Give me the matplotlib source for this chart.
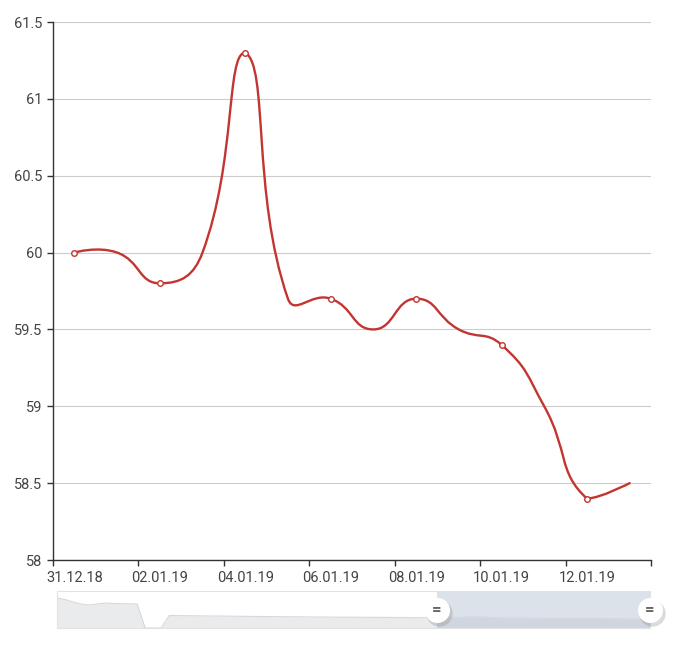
import numpy as np
import matplotlib
matplotlib.use("Agg")
import matplotlib.pyplot as plt
from matplotlib.path import Path
from matplotlib.patches import PathPatch, Rectangle

plt.rcParams['font.family'] = ['Roboto', 'DejaVu Sans']

# data
dates = ['31.12.18', '01.01.19', '02.01.19', '03.01.19', '04.01.19', '05.01.19', '06.01.19',
         '07.01.19', '08.01.19', '09.01.19', '10.01.19', '11.01.19', '12.01.19', '13.01.19']
values = [60.0, 60.0, 59.8, 60.0, 61.3, 59.7, 59.7, 59.5, 59.7, 59.5, 59.4, 59.0, 58.4, 58.5]
y_ticks = [58, 58.5, 59, 59.5, 60, 60.5, 61, 61.5]
y_labels = ['58', '58.5', '59', '59.5', '60', '60.5', '61', '61.5']

# overview shown in the zoom slider (whole series, relative values)
overview = [30, 28.5, 26, 24, 23, 24, 25, 24.5, 24.3, 24.2, 24, 0, 0, 0,
            12.5, 12.4, 12.3, 12.2, 12.1, 12.0, 12.0, 11.9, 11.8, 11.7, 11.6, 11.5, 11.5, 11.4,
            11.3, 11.2, 11.2, 11.1, 11.0, 11.0, 10.9, 10.8, 10.8, 10.8, 10.7, 10.7, 10.6, 10.6,
            10.5, 10.5, 10.4, 10.4, 10.3, 10.3, 10.3, 10.4, 10.6, 10.9, 11.2, 11.0, 10.6, 10.3,
            10.1, 10.0, 10.0, 9.9, 9.9, 9.8, 9.8, 9.7, 9.7, 9.6, 9.6, 9.5, 9.4, 9.4, 9.3, 9.2,
            9.1, 9.0, 9.0]
zoom_start, zoom_end = 0.64, 1.0

RED = '#c23531'

fig = plt.figure(figsize=(6.8, 6.47), dpi=100)
ax = fig.add_axes([53 / 680, 1 - 560 / 647, 598 / 680, 538 / 647])


def echarts_smooth(xs, ys, sx, sy, smooth=0.5):
    # echarts-style bezier smoothing, computed in pixel space
    P = np.column_stack([np.asarray(xs, float) * sx, np.asarray(ys, float) * sy])
    lo, hi = P.min(0), P.max(0)
    n = len(P)
    verts = [P[0]]
    codes = [Path.MOVETO]
    cp0 = P[0].copy()
    for i in range(1, n):
        p = P[i]
        prev = P[i - 1]
        if i + 1 < n:
            nxt = P[i + 1]
            v = nxt - prev
            d0 = np.hypot(*(p - prev))
            d1 = np.hypot(*(p - nxt))
            r = d1 / (d0 + d1)
            cp1 = p - v * smooth * (1 - r)
        else:
            v = np.zeros(2)
            r = 0.5
            cp1 = p.copy()
        verts += [np.clip(cp0, lo, hi), np.clip(cp1, lo, hi), p]
        codes += [Path.CURVE4] * 3
        cp0 = p + v * smooth * r
    V = np.array(verts)
    V[:, 0] /= sx
    V[:, 1] /= sy
    return Path(V, codes)


x = np.arange(len(dates))
path = echarts_smooth(x, values, 598 / 14, 538 / 3.5)
ax.add_patch(PathPatch(path, fill=False, edgecolor=RED, lw=1.7, zorder=3,
                       capstyle='round', joinstyle='round'))
ax.plot(x[::2], np.array(values)[::2], 'o', ms=4, mfc='white', mec=RED, mew=1.0, zorder=4)

ax.set_xlim(-0.5, len(dates) - 0.5)
ax.set_ylim(58, 61.5)
ax.set_yticks(y_ticks)
ax.set_yticklabels(y_labels)
ax.yaxis.grid(True, color='#cccccc', lw=0.8)
ax.set_axisbelow(True)

ax.set_xticks(np.arange(-0.5, len(dates), 2))
ax.set_xticklabels([])
ax.set_xticks(x[::2], minor=True)
ax.set_xticklabels(dates[::2], minor=True)
ax.tick_params(axis='x', which='minor', length=0, pad=8)
ax.tick_params(axis='x', which='major', length=4.5, width=1, color='#333333')
ax.tick_params(axis='y', length=4.5, width=1, color='#333333', pad=3)
ax.tick_params(which='both', labelsize=10.5, labelcolor='#444444')

for s in ['top', 'right']:
    ax.spines[s].set_visible(False)
for s in ['left', 'bottom']:
    ax.spines[s].set_color('#333333')
    ax.spines[s].set_linewidth(1)

# data zoom slider
sl = fig.add_axes([57 / 680, 1 - 628 / 647, 593 / 680, 37 / 647])
ox = np.linspace(0, 1, len(overview))
sl.fill_between(ox, overview, 0, color='#eaebed', lw=0)
sl.plot(ox, overview, color='#d6d8dc', lw=0.8)
sl.set_xlim(0, 1)
sl.set_ylim(0, 37)
sl.add_patch(Rectangle((zoom_start, 0), zoom_end - zoom_start, 37, color='#a7b7cc', alpha=0.4, lw=0))
sl.set_xticks([])
sl.set_yticks([])
for s in sl.spines.values():
    s.set_color('#e3e3e3')
    s.set_linewidth(0.8)
for hx in [zoom_start, zoom_end]:
    sl.plot([hx + 0.004], [0.40 * 37], 'o', ms=19, mfc='#888888', mec='none', alpha=0.3,
            clip_on=False, zorder=5)
    sl.plot([hx], [0.48 * 37], 'o', ms=18, mfc='white', mec='none',
            clip_on=False, zorder=6)
    sl.text(hx, 0.47 * 37, '=', ha='center', va='center', fontsize=12, color='#666666',
            fontweight='bold', zorder=7, clip_on=False)

fig.savefig('out.png', dpi=100)
